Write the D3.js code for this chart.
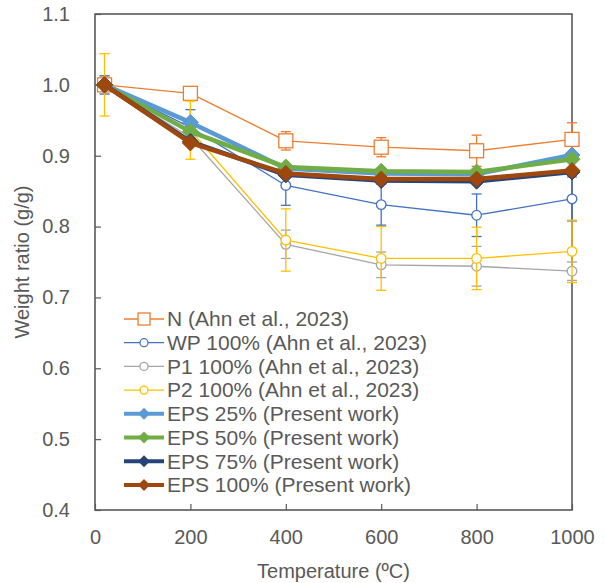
<!DOCTYPE html>
<html>
<head>
<meta charset="utf-8">
<script src="https://cdn.jsdelivr.net/npm/d3@7"></script>
<style>
  body { margin: 0; background: #fff; }
  svg text { font-family: "Liberation Sans", Arial, sans-serif; fill: #595959; }
</style>
</head>
<body>
<svg id="chart" width="606" height="583"></svg>
<script>
// temperatures (ºC)
var temps = [20, 200, 400, 600, 800, 1000];

// Ahn et al., 2023
var nVals = [1.000, 0.988, 0.921, 0.912, 0.907, 0.923];
var nErr = [0.004, 0.004, 0.013, 0.0135, 0.022, 0.0235];
var wpVals = [1.000, 0.940, 0.858, 0.831, 0.816, 0.839];
var wpErr = [0.013, 0.025, 0.028, 0.029, 0.030, 0.031];
var p1Vals = [1.000, 0.926, 0.775, 0.746, 0.744, 0.737];
var p1Err = [0.012, 0.010, 0.020, 0.018, 0.028, 0.013];
var p2Vals = [1.000, 0.936, 0.781, 0.755, 0.755, 0.765];
var p2Err = [0.044, 0.041, 0.044, 0.045, 0.044, 0.044];

// present work
var eps25 = [1.000, 0.947, 0.882, 0.875, 0.874, 0.901];
var eps50 = [1.000, 0.934, 0.884, 0.878, 0.877, 0.895];
var eps75 = [1.000, 0.920, 0.873, 0.865, 0.864, 0.877];
var eps100 = [1.000, 0.918, 0.875, 0.867, 0.867, 0.879];

var xTicks = [0, 200, 400, 600, 800, 1000];
var yTicks = [0.4, 0.5, 0.6, 0.7, 0.8, 0.9, 1.0, 1.1];

var series = [
    {name: 'N (Ahn et al., 2023)', vals: nVals, err: nErr, color: '#ED7D31', marker: 'square', thick: false},
    {name: 'WP 100% (Ahn et al., 2023)', vals: wpVals, err: wpErr, color: '#4472C4', marker: 'circle', thick: false},
    {name: 'P1 100% (Ahn et al., 2023)', vals: p1Vals, err: p1Err, color: '#A5A5A5', marker: 'circle', thick: false},
    {name: 'P2 100% (Ahn et al., 2023)', vals: p2Vals, err: p2Err, color: '#FFC000', marker: 'circle', thick: false},
    {name: 'EPS 25% (Present work)', vals: eps25, err: null, color: '#5B9BD5', marker: 'diamond', thick: true},
    {name: 'EPS 50% (Present work)', vals: eps50, err: null, color: '#70AD47', marker: 'diamond', thick: true},
    {name: 'EPS 75% (Present work)', vals: eps75, err: null, color: '#264478', marker: 'diamond', thick: true},
    {name: 'EPS 100% (Present work)', vals: eps100, err: null, color: '#9E480E', marker: 'diamond', thick: true}
];

var mLeft = 95, mRight = 572, mTop = 14, mBottom = 510;
var svg = d3.select('#chart');

var x = d3.scaleLinear().domain([0, 1000]).range([mLeft, mRight]);
var y = d3.scaleLinear().domain([0.4, 1.1]).range([mBottom, mTop]);

// axes with inward ticks
var xAxis = svg.append('g')
    .attr('transform', 'translate(0,' + mBottom + ')')
    .call(d3.axisBottom(x).tickValues(xTicks).tickSize(-6).tickPadding(20).tickFormat(d3.format('d')));
var yAxis = svg.append('g')
    .attr('transform', 'translate(' + mLeft + ',0)')
    .call(d3.axisLeft(y).tickValues(yTicks).tickSize(-6).tickPadding(25).tickFormat(d3.format('.1f')));

[xAxis, yAxis].forEach(function (a) {
    a.select('.domain').remove();
    a.selectAll('line').attr('stroke', '#595959').attr('stroke-width', 1.2);
    a.selectAll('text').style('font-size', '20px').style('fill', '#595959');
});

svg.append('rect')
    .attr('x', mLeft).attr('y', mTop)
    .attr('width', mRight - mLeft).attr('height', mBottom - mTop)
    .attr('fill', 'none')
    .attr('stroke', '#595959')
    .attr('stroke-width', 1.6);

svg.append('text')
    .attr('x', (mLeft + mRight) / 2)
    .attr('y', 578)
    .attr('text-anchor', 'middle')
    .style('font-size', '20px')
    .text('Temperature (ºC)');

svg.append('text')
    .attr('transform', 'translate(29,' + ((mTop + mBottom) / 2) + ') rotate(-90)')
    .attr('text-anchor', 'middle')
    .style('font-size', '20px')
    .text('Weight ratio (g/g)');

function drawMarker(g, s, cx, cy) {
    if (s.marker === 'square') {
        g.append('rect')
            .attr('x', cx - 7).attr('y', cy - 7)
            .attr('width', 14).attr('height', 14)
            .attr('fill', '#fff').attr('stroke', s.color).attr('stroke-width', 1.3);
    } else if (s.marker === 'circle') {
        g.append('circle')
            .attr('cx', cx).attr('cy', cy).attr('r', 4.8)
            .attr('fill', '#fff').attr('stroke', s.color).attr('stroke-width', 1.3);
    } else {
        var r = 8;
        g.append('path')
            .attr('d', 'M' + cx + ',' + (cy - r) + 'L' + (cx + r) + ',' + cy +
                'L' + cx + ',' + (cy + r) + 'L' + (cx - r) + ',' + cy + 'Z')
            .attr('fill', s.color).attr('stroke', s.color).attr('stroke-width', 1);
    }
}

var line = d3.line()
    .x(function (d) { return x(d[0]); })
    .y(function (d) { return y(d[1]); });

var plot = svg.append('g').attr('class', 'plot');

series.forEach(function (s) {
    var g = plot.append('g').attr('class', 'series');
    var pts = temps.map(function (t, i) { return [t, s.vals[i]]; });

    if (s.err) {
        temps.forEach(function (t, i) {
            var px = x(t);
            var y0 = y(s.vals[i] - s.err[i]), y1 = y(s.vals[i] + s.err[i]);
            g.append('line').attr('x1', px).attr('x2', px).attr('y1', y0).attr('y2', y1)
                .attr('stroke', s.color).attr('stroke-width', 1.3);
            [y0, y1].forEach(function (yy) {
                g.append('line').attr('x1', px - 5).attr('x2', px + 5).attr('y1', yy).attr('y2', yy)
                    .attr('stroke', s.color).attr('stroke-width', 1.3);
            });
        });
    }

    g.append('path')
        .datum(pts)
        .attr('d', line)
        .attr('fill', 'none')
        .attr('stroke', s.color)
        .attr('stroke-width', s.thick ? 4.5 : 1.3)
        .attr('stroke-linejoin', 'round');

    pts.forEach(function (p) {
        drawMarker(g, s, x(p[0]), y(p[1]));
    });
});

// legend
var legend = svg.append('g').attr('class', 'legend');
series.forEach(function (s, i) {
    var ly = 319 + i * 23.7;
    var row = legend.append('g');
    row.append('line')
        .attr('x1', 124).attr('x2', 164).attr('y1', ly).attr('y2', ly)
        .attr('stroke', s.color).attr('stroke-width', s.thick ? 4 : 1.3);
    if (s.marker === 'square') {
        row.append('rect').attr('x', 138).attr('y', ly - 6).attr('width', 12).attr('height', 12)
            .attr('fill', '#fff').attr('stroke', s.color).attr('stroke-width', 1.3);
    } else if (s.marker === 'circle') {
        row.append('circle').attr('cx', 144).attr('cy', ly).attr('r', 4)
            .attr('fill', '#fff').attr('stroke', s.color).attr('stroke-width', 1.3);
    } else {
        var r = 6;
        row.append('path')
            .attr('d', 'M144,' + (ly - r) + 'L' + (144 + r) + ',' + ly + 'L144,' + (ly + r) + 'L' + (144 - r) + ',' + ly + 'Z')
            .attr('fill', s.color);
    }
    row.append('text')
        .attr('x', 167).attr('y', ly)
        .attr('dy', '0.35em')
        .style('font-size', '21px')
        .text(s.name);
});
</script>
</body>
</html>
